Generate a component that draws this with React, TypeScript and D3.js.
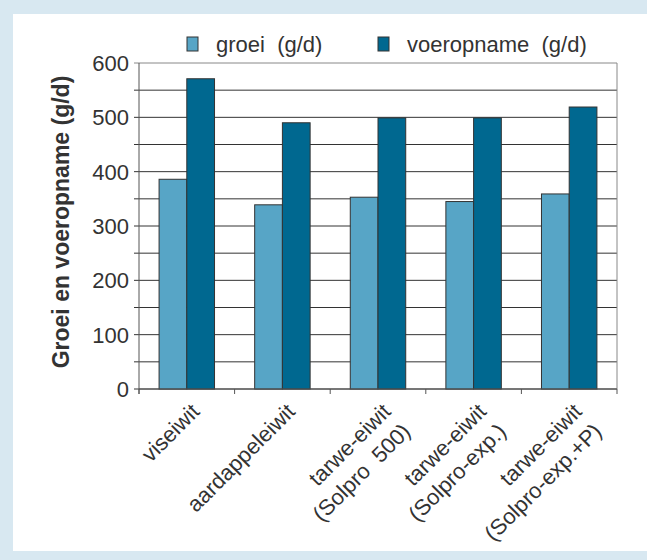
import * as d3 from "d3";

const categories = [
  ["viseiwit"],
  ["aardappeleiwit"],
  ["tarwe-eiwit", "(Solpro  500)"],
  ["tarwe-eiwit", "(Solpro-exp.)"],
  ["tarwe-eiwit", "(Solpro-exp.+P)"],
];
const seriesNames = ["groei  (g/d)", "voeropname  (g/d)"];
const groei = [386, 339, 353, 345, 359];
const voeropname = [571, 490, 499, 499, 519];
const yTicks = [0, 100, 200, 300, 400, 500, 600];
const gridValues = d3.range(0, 601, 50);

const colors = ["#57a5c6", "#006890"];
const font = "'Liberation Sans', Arial, sans-serif";

export default function App() {
  const W = 647;
  const H = 560;
  const left = 139;
  const right = 617;
  const top = 63;
  const bottom = 389;

  const keys = categories.map((_, i) => String(i));
  const x = d3
    .scaleBand()
    .domain(keys)
    .range([left, right])
    .paddingInner(0.42)
    .paddingOuter(0.21);
  const xs = d3.scaleBand().domain(["0", "1"]).range([0, x.bandwidth()]);
  const y = d3.scaleLinear().domain([0, 600]).range([bottom, top]);
  const step = x.step();
  const series = [groei, voeropname];

  return (
    <svg
      width={W}
      height={H}
      style={{ position: "absolute", left: 0, top: 0 }}
      fontFamily={font}
    >
      <rect x={0} y={0} width={W} height={H} fill="#d8e8f1" />
      <rect x={13} y={14} width={W - 13} height={537} fill="#ffffff" />

      {/* grid */}
      {gridValues.map((v) => (
        <line
          key={v}
          x1={left - 5}
          x2={right}
          y1={y(v)}
          y2={y(v)}
          stroke={v === 600 ? "#888" : "#333"}
          strokeWidth={1}
        />
      ))}
      <line x1={right} x2={right} y1={top} y2={bottom} stroke="#888" />

      {/* bars */}
      {series.map((vals, s) =>
        vals.map((v, i) => (
          <rect
            key={`${s}-${i}`}
            x={x(keys[i])! + xs(String(s))!}
            y={y(v)}
            width={xs.bandwidth()}
            height={y(0) - y(v)}
            fill={colors[s]}
            stroke="#333"
            strokeWidth={1}
          />
        ))
      )}

      {/* axes */}
      <line x1={left} x2={left} y1={top} y2={bottom + 5} stroke="#555" />
      <line x1={left} x2={right} y1={bottom} y2={bottom} stroke="#555" />
      {d3.range(0, categories.length + 1).map((k) => (
        <line
          key={k}
          x1={left + k * step}
          x2={left + k * step}
          y1={bottom}
          y2={bottom + 5}
          stroke="#555"
        />
      ))}
      {yTicks.map((v) => (
        <text
          key={v}
          x={129}
          y={y(v)}
          dy="0.36em"
          textAnchor="end"
          fontSize={22}
          fill="#333"
        >
          {v}
        </text>
      ))}

      {/* x labels */}
      {categories.map((lines, i) => {
        const cx = x(keys[i])! + x.bandwidth() / 2;
        return (
          <text
            key={i}
            transform={`translate(${cx + 14},${bottom + 24}) rotate(-45)`}
            textAnchor="end"
            fontSize={22}
            fill="#333"
            style={{ whiteSpace: "pre" }}
          >
            {lines.map((l, j) => (
              <tspan key={j} x={0} y={j * 28}>
                {l}
              </tspan>
            ))}
          </text>
        );
      })}

      {/* y title */}
      <text
        transform={`translate(69,${(top + bottom) / 2 - 4}) rotate(-90)`}
        textAnchor="middle"
        fontSize={23}
        fontWeight="bold"
        fill="#333"
      >
        Groei en voeropname (g/d)
      </text>

      {/* legend */}
      {seriesNames.map((n, s) => {
        const lx = s === 0 ? 187 : 378;
        return (
          <g key={n}>
            <rect
              x={lx}
              y={37}
              width={11}
              height={14}
              fill={colors[s]}
              stroke="#333"
            />
            <text
              x={lx + 29}
              y={52}
              fontSize={22}
              fill="#333"
              style={{ whiteSpace: "pre" }}
            >
              {n}
            </text>
          </g>
        );
      })}
    </svg>
  );
}
